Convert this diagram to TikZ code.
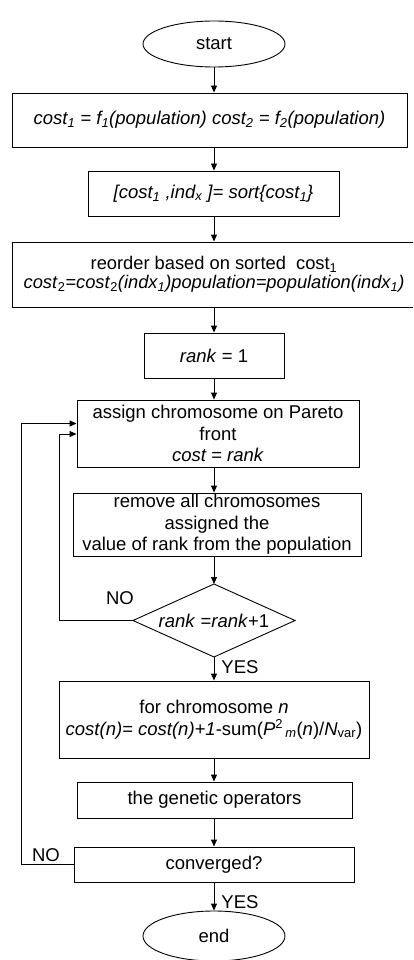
\documentclass[tikz,border=0pt]{standalone}
\usepackage{fontspec}
\setmainfont{Liberation Sans}
\usetikzlibrary{shapes.geometric,arrows.meta}
\begin{document}
\begin{tikzpicture}[x=1pt,y=-1pt,
  every node/.style={font=\fontsize{18.5}{21.5}\selectfont},
  box/.style={draw,line width=0.9pt,rectangle,inner sep=0pt,align=center},
  term/.style={draw,line width=0.9pt,ellipse,inner sep=0pt,align=center},
  shp/.style={draw,line width=0.9pt},
  flow/.style={line width=0.9pt,-{Triangle[length=7pt,width=6pt]}},
  lbl/.style={inner sep=0pt}]
\useasboundingbox (0,0) rectangle (413,960);
\clip (0,0) rectangle (413,960);
\fill[white] (0,0) rectangle (413,960);

\node[term,minimum width=142,minimum height=46] (start) at (214,44) {start};
\node[box,minimum width=395,minimum height=54] (b1) at (209.5,120)
  {\itshape cost\textsubscript{1} = f\textsubscript{1}(population) cost\textsubscript{2} = f\textsubscript{2}(population)};
\node[box,minimum width=251,minimum height=45] (b2) at (213.5,193.5)
  {\itshape [cost\textsubscript{1} ,ind\textsubscript{x} ]= sort\{cost\textsubscript{1}\}};
\node[box,minimum width=404,minimum height=65,
      font=\fontsize{18.3}{19.5}\selectfont] (b3) at (214,274.5)
  {reorder based on sorted\ \ cost\textsubscript{1}\\
   \textit{cost}\textsubscript{2}\textit{=cost}\textsubscript{2}\textit{(indx\textsubscript{1})population=population(indx\textsubscript{1})}};
\node[box,minimum width=140,minimum height=45] (b4) at (214,355.5) {\textit{rank} = 1};
\node[box,minimum width=282,minimum height=67] (b5) at (218,433.5)
  {assign chromosome on Pareto\\front\\\textit{cost = rank}};
\node[box,minimum width=288,minimum height=63] (b6) at (217,524.5)
  {remove all chromosomes\\assigned the\\value of rank from the population};
\node[inner sep=0pt] (dia) at (214,620.5) {\textit{rank} =\textit{rank}+1};
\coordinate (diaN) at (214,584);
\coordinate (diaS) at (214,657);
\coordinate (diaW) at (133,620.5);
\coordinate (diaE) at (295,620.5);
\draw[shp] (diaN) -- (diaE) -- (diaS) -- (diaW) -- cycle;
\node[box,minimum width=310,minimum height=77] (b7) at (214,719.5)
  {for chromosome \textit{n}\\
   \textit{cost(n)= cost(n)+1}-sum(\textit{P}\textsuperscript{2}\textsubscript{\,\textit{m}}(\textit{n})/\textit{N}\textsubscript{var})};
\node[box,minimum width=275,minimum height=36] (b8) at (214.5,800) {the genetic operators};
\node[box,minimum width=280,minimum height=35] (b9) at (214,864.5) {converged?};
\node[term,minimum width=142,minimum height=50] (end) at (214,936) {end};

\coordinate (ax) at (214,0);
\draw[flow] (start.south) -- (ax |- b1.north);
\draw[flow] (ax |- b1.south) -- (ax |- b2.north);
\draw[flow] (ax |- b2.south) -- (ax |- b3.north);
\draw[flow] (ax |- b3.south) -- (ax |- b4.north);
\draw[flow] (ax |- b4.south) -- (ax |- b5.north);
\draw[flow] (ax |- b5.south) -- (ax |- b6.north);
\draw[flow] (ax |- b6.south) -- (diaN);
\draw[flow] (diaS) -- (ax |- b7.north);
\draw[flow] (ax |- b7.south) -- (ax |- b8.north);
\draw[flow] (ax |- b8.south) -- (ax |- b9.north);
\draw[flow] (ax |- b9.south) -- (end.north);

\coordinate (lA) at (59,620.5);
\coordinate (lB) at (21,864.5);
\draw[flow] (diaW) -- (lA) |- ([yshift=-0.5pt]b5.west);
\draw[flow] (b9.west) -- (lB) |- ([yshift=10pt]b5.west);

\node[lbl] (no1) at (120,598) {NO};
\node[lbl] (yes1) at (240,667) {YES};
\node[lbl] (no2) at (46,855) {NO};
\node[lbl] (yes2) at (240,902) {YES};
\end{tikzpicture}
\end{document}
